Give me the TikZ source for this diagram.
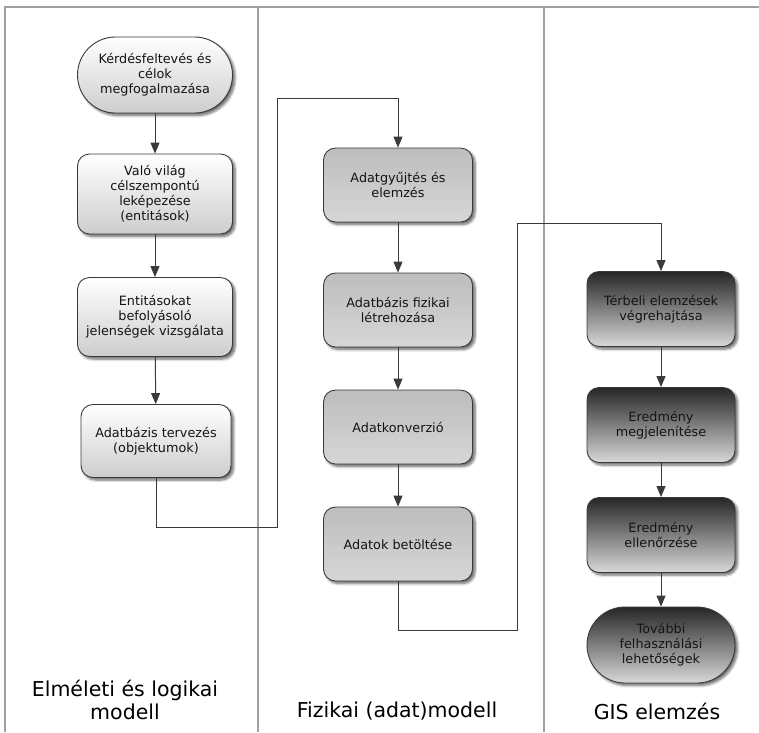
\documentclass[tikz,border=0pt]{standalone}
\usepackage{fontspec}
\setmainfont{DejaVu Sans}
\usetikzlibrary{arrows.meta,shadows.blur}
\definecolor{frameC}{HTML}{A0A0A0}
\definecolor{lineC}{HTML}{3A3A3A}
\definecolor{txtC}{HTML}{141414}
\definecolor{aTop}{HTML}{FFFFFF}
\definecolor{aBot}{HTML}{CDCDCD}
\definecolor{bTop}{HTML}{BDBDBD}
\definecolor{bBot}{HTML}{D6D6D6}
\definecolor{cTop}{HTML}{262626}
\definecolor{cBot}{HTML}{D8D8D8}
\tikzset{
  frame/.style={draw=frameC, line width=2.2pt},
  boxbase/.style={draw=lineC, line width=0.9pt, rounded corners=12pt, align=center,
    text=txtC, font=\fontsize{12.8}{15}\selectfont, inner sep=0pt,
    blur shadow={shadow xshift=2.5pt, shadow yshift=-2.5pt, shadow blur steps=6, shadow blur radius=2.5pt, shadow opacity=60}},
  boxa/.style={boxbase, top color=aTop, bottom color=aBot, minimum width=155pt, minimum height=80pt},
  boxb/.style={boxbase, top color=bTop, bottom color=bBot, minimum width=149pt, minimum height=74pt},
  boxc/.style={boxbase, top color=cTop, bottom color=cBot, minimum width=148pt, minimum height=75pt},
  conn/.style={draw=lineC, line width=1pt, -{Triangle[width=9pt,length=11pt]}},
  title/.style={align=center, font=\fontsize{20.5}{23}\selectfont, text=black}
}
\begin{document}
\begin{tikzpicture}[x=1pt,y=-1pt]
\useasboundingbox (0,0) rectangle (759,732);
% frame
\draw[frame] (5,732) -- (5,7) -- (759,7);
\draw[frame] (258,7) -- (258,732);
\draw[frame] (544,7) -- (544,732);
% column 1
\node[boxa, rounded corners=38pt, minimum height=76pt] (n1) at (155,75) {Kérdésfeltevés és\\célok\\megfogalmazása};
\node[boxa] (n2) at (155,194) {Való világ\\célszempontú\\leképezése\\(entitások)};
\node[boxa, minimum height=79pt] (n3) at (155,317) {Entitásokat\\befolyásoló\\jelenségek vizsgálata};
\node[boxa, minimum width=150pt, minimum height=73pt] (n4) at (156,441) {Adatbázis tervezés\\(objektumok)};
% column 2
\node[boxb] (n5) at (398,185) {Adatgyűjtés és\\elemzés};
\node[boxb] (n6) at (398,310) {Adatbázis fizikai\\létrehozása};
\node[boxb] (n7) at (398,427) {Adatkonverzió};
\node[boxb] (n8) at (398,544) {Adatok betöltése};
% column 3
\node[boxc] (n9) at (661,309) {Térbeli elemzések\\végrehajtása};
\node[boxc] (n10) at (661,425) {Eredmény\\megjelenítése};
\node[boxc] (n11) at (661,535) {Eredmény\\ellenőrzése};
\node[boxc, rounded corners=38pt, minimum height=76pt] (n12) at (661,645) {További\\felhasználási\\lehetőségek};
% connectors
\draw[conn] (n1) -- (n2);
\draw[conn] (n2) -- (n3);
\draw[conn] (n3) -- (n4);
\coordinate (a1) at (277,527);
\coordinate (a2) at (277,98);
\draw[conn] (n4.south) |- (a1) -- (a2) -| (n5.north);
\draw[conn] (n5) -- (n6);
\draw[conn] (n6) -- (n7);
\draw[conn] (n7) -- (n8);
\coordinate (b1) at (517,630);
\coordinate (b2) at (517,223);
\draw[conn] (n8.south) |- (b1) -- (b2) -| (n9.north);
\draw[conn] (n9) -- (n10);
\draw[conn] (n10) -- (n11);
\draw[conn] (n11) -- (n12);
% titles
\node[title] (t1) at (125,700) {Elméleti és logikai\\modell};
\node[title] (t2) at (397,711) {Fizikai (adat)modell};
\node[title] (t3) at (657,711) {GIS elemzés};
\end{tikzpicture}
\end{document}
